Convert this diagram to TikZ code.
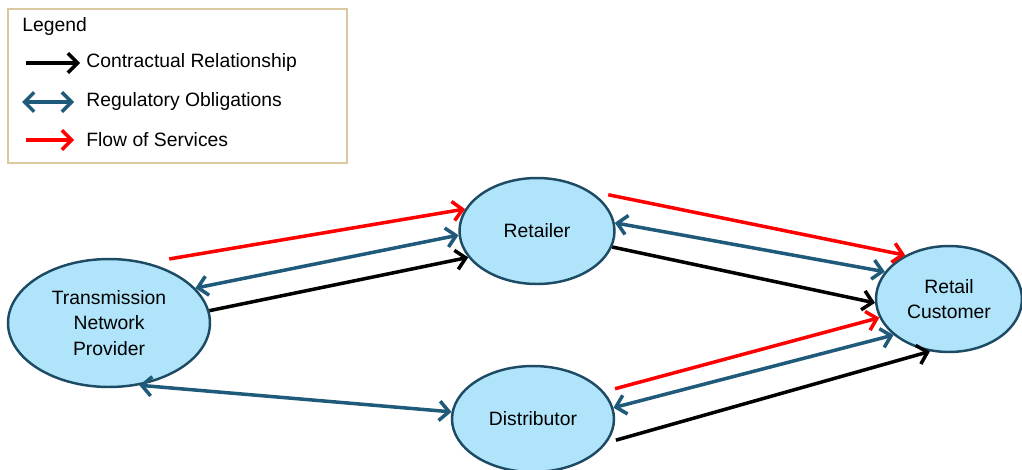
\documentclass[tikz,border=0pt]{standalone}
\usepackage{fontspec}
\setmainfont{Liberation Sans}
\usetikzlibrary{arrows.meta,shapes.geometric,positioning}
\definecolor{regblue}{RGB}{31,90,122}
\definecolor{partyfill}{RGB}{176,228,250}
\definecolor{partyline}{RGB}{30,75,100}
\definecolor{legendline}{RGB}{217,200,160}
\definecolor{flowred}{RGB}{255,0,0}

\tikzset{
  party/.style={ellipse, draw=partyline, line width=1.4pt, fill=partyfill,
    inner sep=0pt, align=center, font=\fontsize{11}{14.5}\selectfont},
  barb/.tip={Straight Barb[length=5.5pt,width=11pt]},
  contract/.style={-barb, line width=2pt, black},
  regulate/.style={barb-barb, line width=2pt, regblue},
  service/.style={-barb, line width=2pt, flowred},
  legendtext/.style={anchor=west, inner sep=0pt, font=\fontsize{11}{13}\selectfont}
}

\begin{document}
\begin{tikzpicture}[x=0.02cm, y=-0.02cm]
    \useasboundingbox (0,0) rectangle (1022,470);

    % legend
    \node[draw=legendline, line width=1.6pt, fill=white,
          minimum width=6.78cm, minimum height=3.08cm] (legend) at (177.5,86) {};
    \node[legendtext] (lhead) at (22,27) {Legend};
    \node[legendtext] (lcon) at (86,63) {Contractual Relationship};
    \node[legendtext] (lreg) at (86,102) {Regulatory Obligations};
    \node[legendtext] (lsrv) at (86,140) {Flow of Services};
    \draw[contract] ([xshift=-1.2cm]lcon.west) -- ([xshift=-0.12cm]lcon.west);
    \draw[regulate] ([xshift=-1.28cm]lreg.west) -- ([xshift=-0.24cm]lreg.west);
    \draw[service] ([xshift=-1.2cm]lsrv.west) -- ([xshift=-0.24cm]lsrv.west);

    % parties
    \node[party, minimum width=4.04cm, minimum height=2.56cm] (tnp) at (109,323)
        {Transmission\\Network\\Provider};
    \node[party, minimum width=3.1cm, minimum height=2.12cm] (ret) at (537,231) {Retailer};
    \node[party, minimum width=3.24cm, minimum height=2.12cm] (dist) at (533,419) {Distributor};
    \node[party, minimum width=2.92cm, minimum height=2.12cm] (cust) at (949,299)
        {Retail\\Customer};

    % transmission network provider links
    \draw[service] ([shift={(8,-8)}]tnp.47) -- (ret.163);
    \draw[regulate] (tnp.22) -- (ret.183);
    \draw[contract] (tnp.7) -- (ret.201);
    \draw[regulate] (tnp.-64) -- (dist.175);

    % retailer links
    \draw[service] ([shift={(8,-4)}]ret.27) -- (cust.135);
    \draw[regulate] (ret.6) -- (cust.157);
    \draw[contract] (ret.-12) -- (cust.183);

    % distributor links
    \draw[service] ([shift={(11,-3)}]dist.21) -- (cust.195);
    \draw[regulate] (dist.8) -- (cust.213);
    \draw[contract] ([shift={(6,2)}]dist.-14) -- (cust.250);
\end{tikzpicture}
\end{document}
